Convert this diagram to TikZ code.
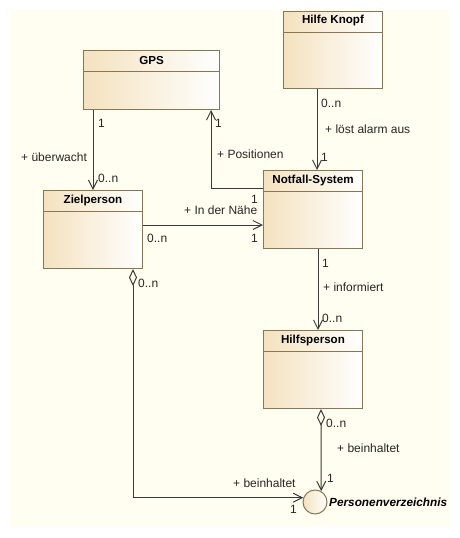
\documentclass[tikz,border=0pt]{standalone}
\usepackage{fontspec}
\setmainfont{Liberation Sans}
\usetikzlibrary{arrows.meta}
\definecolor{bgc}{HTML}{FFFEF0}
\definecolor{boxl}{HTML}{F4E2BF}
\definecolor{boxb}{HTML}{8A7752}
\definecolor{linec}{HTML}{3A3A3A}
\tikzset{
  cls/.style={draw=boxb, line width=1pt, left color=boxl, right color=white, inner sep=0pt, anchor=north west},
  ctitle/.style={font=\fontsize{11.6}{13}\selectfont\bfseries, text=black, inner sep=0pt},
  lbl/.style={font=\fontsize{12}{14}\selectfont, text=black!85, inner sep=0pt, anchor=west},
  assoc/.style={draw=linec, line width=1pt, -{Straight Barb[length=9pt,width=9pt,line width=1pt]}},
  aggr/.style={draw=linec, line width=1pt, {Diamond[open,length=17pt,width=8pt,line width=1pt,fill=bgc]}-{Straight Barb[length=9pt,width=9pt,line width=1pt]}},
  hdr/.style={draw=boxb, line width=1pt}
}
\begin{document}
\begin{tikzpicture}[x=1pt,y=-1pt]
\useasboundingbox (0,0) rectangle (460,538);
\fill[bgc] (10,10) rectangle (449,527);
% classes
\node[cls, minimum width=136pt, minimum height=59pt] (gps) at (83,50) {};
\node[cls, minimum width=99pt, minimum height=77pt] (hk) at (283,11) {};
\node[cls, minimum width=99pt, minimum height=78pt] (ziel) at (43,190) {};
\node[cls, minimum width=99pt, minimum height=78pt] (notf) at (263,170) {};
\node[cls, minimum width=99pt, minimum height=78pt] (hp) at (263,330) {};
\node[circle, draw=boxb, line width=1pt, left color=boxl, right color=white, minimum size=24pt, inner sep=0pt] (pv) at (315,502) {};
% header lines
\foreach \n in {gps,hk,ziel,notf,hp}{
  \draw[hdr] ([yshift=-21pt]\n.north west) -- ([yshift=-21pt]\n.north east);
}
% titles
\node[ctitle] at ([yshift=-11pt]gps.north) {GPS};
\node[ctitle] at ([yshift=-10pt]hk.north) {Hilfe Knopf};
\node[ctitle] at ([yshift=-10pt]ziel.north) {Zielperson};
\node[ctitle] at ([yshift=-10pt]notf.north) {Notfall-System};
\node[ctitle] at ([yshift=-10pt]hp.north) {Hilfsperson};
\node[font=\fontsize{11.8}{13}\selectfont\bfseries\itshape, inner sep=0pt, anchor=west] (pvl) at (329,502) {Personenverzeichnis};
% connectors
\draw[assoc] ([xshift=10pt]gps.south west) -- ([xshift=50pt]ziel.north west);
\draw[assoc] ([yshift=-18pt]notf.north west) -| ([xshift=-9pt]gps.south east);
\draw[assoc] ([yshift=-35pt]ziel.north east) -- ([yshift=-55pt]notf.north west);
\draw[assoc] ([xshift=34pt]hk.south west) -- ([xshift=54pt]notf.north west);
\draw[assoc] ([xshift=55pt]notf.south west) -- ([xshift=55pt]hp.north west);
\draw[aggr] ([xshift=58pt]hp.south west) -- (pv.60);
\draw[aggr] ([xshift=90pt]ziel.south west) |- (pv.160);
% labels
\node[lbl] at (98,123) {1};
\node[lbl] at (21,157) {+ überwacht};
\node[lbl] at (98,178) {0..n};
\node[lbl] at (215,123) {1};
\node[lbl] at (217,154) {+ Positionen};
\node[lbl] at (251,199) {1};
\node[lbl] at (184,210) {+ In der Nähe};
\node[lbl] at (147,238) {0..n};
\node[lbl] at (251,238) {1};
\node[lbl] at (321,103) {0..n};
\node[lbl] at (325,129) {+ löst alarm aus};
\node[lbl] at (321,157) {1};
\node[lbl] at (322,263) {1};
\node[lbl] at (323,287) {+ informiert};
\node[lbl] at (322,318) {0..n};
\node[lbl] at (326,423) {0..n};
\node[lbl] at (337,448) {+ beinhaltet};
\node[lbl] at (327,478) {1};
\node[lbl] at (138,283) {0..n};
\node[lbl] at (233,483) {+ beinhaltet};
\node[lbl] at (290,509) {1};
\end{tikzpicture}
\end{document}
